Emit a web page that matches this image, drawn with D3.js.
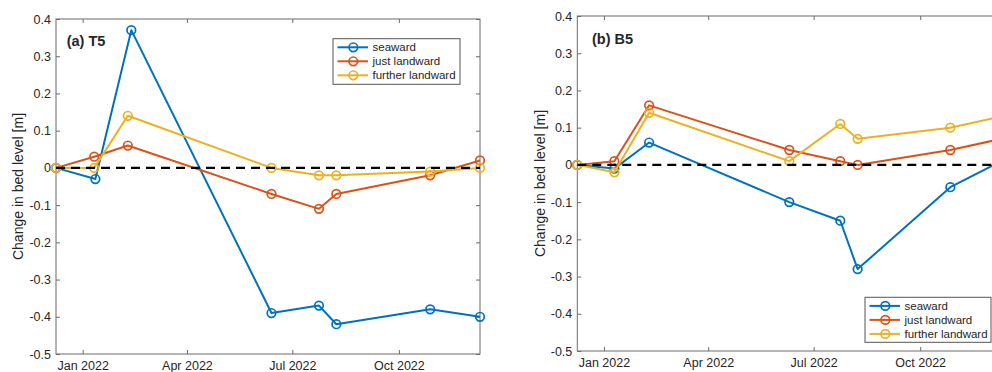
<!DOCTYPE html>
<html>
<head>
<meta charset="utf-8">
<script src="https://cdn.jsdelivr.net/npm/d3@7"></script>
<style>
  html, body { margin: 0; padding: 0; background: #fff; }
  svg { display: block; font-family: "Liberation Sans", Arial, Helvetica, sans-serif; }
</style>
</head>
<body>
<svg id="chart" width="992" height="372"></svg>
<script>
// ---------------- data ----------------
const seriesNames = ["seaward", "just landward", "further landward"];
const seriesColors = ["#0072BD", "#D95319", "#EDB120"];

// Panel (a) T5
const datesT5Sea  = ["2021-12-09","2022-01-12","2022-02-12","2022-06-13","2022-07-24","2022-08-08","2022-10-28","2022-12-10"];
const datesT5Land = ["2021-12-09","2022-01-11","2022-02-09","2022-06-13","2022-07-24","2022-08-08","2022-10-28","2022-12-10"];
const t5Seaward  = [0, -0.03, 0.37, -0.39, -0.37, -0.42, -0.38, -0.40];
const t5Just     = [0,  0.03, 0.06, -0.07, -0.11, -0.07, -0.02,  0.02];
const t5Further  = [0,  0.00, 0.14,  0.00, -0.02, -0.02, -0.01,  0.00];

// Panel (b) B5
const datesB5 = ["2021-12-09","2022-01-10","2022-02-09","2022-06-10","2022-07-24","2022-08-08","2022-10-27","2022-12-10"];
const b5Seaward  = [0, -0.01, 0.06, -0.10, -0.15, -0.28, -0.06, 0.01];
const b5Just     = [0,  0.01, 0.16,  0.04,  0.01,  0.00,  0.04, 0.07];
const b5Further  = [0, -0.02, 0.14,  0.01,  0.11,  0.07,  0.10, 0.13];

const xDomain = ["2021-12-09", "2022-12-10"];
const xTickDates = ["2022-01-01", "2022-04-01", "2022-07-01", "2022-10-01"];
const yTicks = [0.4, 0.3, 0.2, 0.1, 0, -0.1, -0.2, -0.3, -0.4, -0.5];
const yDomain = [-0.5, 0.4];
const yLabel = "Change in bed level [m]";

// ---------------- drawing ----------------
const parse = d3.timeParse("%Y-%m-%d");
const svg = d3.select("#chart");
const axisColor = "#6b6b6b";
const textColor = "#262626";

const panels = [
  { title: "(a) T5", left: 56, right: 480, top: 19, bottom: 354,
    titleX: 66.7, titleY: 46, ylabX: 23,
    series: [
      { dates: datesT5Sea, values: t5Seaward },
      { dates: datesT5Land, values: t5Just },
      { dates: datesT5Land, values: t5Further }
    ],
    legend: { x: 333, y: 38.7, w: 127, h: 45.6 } },
  { title: "(b) B5", left: 577.3, right: 1001.3, top: 16, bottom: 351,
    titleX: 592, titleY: 43.5, ylabX: 544.5,
    series: [
      { dates: datesB5, values: b5Seaward },
      { dates: datesB5, values: b5Just },
      { dates: datesB5, values: b5Further }
    ],
    legend: { x: 865, y: 297.3, w: 126, h: 45 } }
];

const fmtY = d => d === 0 ? "0" : d3.format(".1f")(d).replace("\u2212", "-");
const fmtX = d3.timeFormat("%b %Y");

panels.forEach(p => {
  const x = d3.scaleTime().domain(xDomain.map(parse)).range([p.left, p.right]);
  const y = d3.scaleLinear().domain(yDomain).range([p.bottom, p.top]);
  const g = svg.append("g");

  // white background frame
  g.append("rect").attr("x", p.left).attr("y", p.top)
    .attr("width", p.right - p.left).attr("height", p.bottom - p.top)
    .attr("fill", "#fff");

  // axes
  const styleAxis = sel => {
    sel.select(".domain").remove();
    sel.selectAll("line").attr("stroke", axisColor).attr("stroke-width", 1);
    sel.selectAll("text").attr("fill", textColor)
      .style("font-size", "12.5px")
      .style("font-family", "'Liberation Sans', Arial, Helvetica, sans-serif");
  };

  g.append("g").attr("transform", `translate(0,${p.bottom})`)
    .call(d3.axisBottom(x).tickValues(xTickDates.map(parse)).tickFormat(fmtX).tickSize(-4).tickPadding(7))
    .call(styleAxis);
  g.append("g").attr("transform", `translate(0,${p.top})`)
    .call(d3.axisTop(x).tickValues(xTickDates.map(parse)).tickFormat("").tickSize(-4))
    .call(styleAxis);
  g.append("g").attr("transform", `translate(${p.left},0)`)
    .call(d3.axisLeft(y).tickValues(yTicks).tickFormat(fmtY).tickSize(-4).tickPadding(5))
    .call(styleAxis);
  g.append("g").attr("transform", `translate(${p.right},0)`)
    .call(d3.axisRight(y).tickValues(yTicks).tickFormat("").tickSize(-4))
    .call(styleAxis);

  // frame
  g.append("rect").attr("x", p.left).attr("y", p.top)
    .attr("width", p.right - p.left).attr("height", p.bottom - p.top)
    .attr("fill", "none").attr("stroke", axisColor).attr("stroke-width", 1);

  // series
  const line = d3.line().x(d => x(d.date)).y(d => y(d.v));
  p.series.forEach((s, i) => {
    const pts = s.values.map((v, k) => ({ date: parse(s.dates[k]), v }));
    g.append("path").datum(pts).attr("d", line)
      .attr("fill", "none").attr("stroke", seriesColors[i])
      .attr("stroke-width", 2).attr("stroke-linejoin", "round");
    g.selectAll(null).data(pts).enter().append("circle")
      .attr("cx", d => x(d.date)).attr("cy", d => y(d.v)).attr("r", 4.3)
      .attr("fill", "none").attr("stroke", seriesColors[i]).attr("stroke-width", 1.7);
  });

  // zero dashed line
  g.append("line").attr("x1", x(parse(xDomain[0]))).attr("x2", x(parse(xDomain[1])))
    .attr("y1", y(0)).attr("y2", y(0))
    .attr("stroke", "#000").attr("stroke-width", 2.3).attr("stroke-dasharray", "9,6");

  // title
  g.append("text").attr("x", p.titleX).attr("y", p.titleY)
    .attr("fill", textColor).style("font-size", "14.5px").style("font-weight", "bold")
    .text(p.title);

  // y label
  g.append("text")
    .attr("transform", `translate(${p.ylabX},${(p.top + p.bottom) / 2}) rotate(-90)`)
    .attr("text-anchor", "middle").attr("fill", textColor)
    .style("font-size", "14px").text(yLabel);

  // legend
  const L = p.legend;
  const lg = g.append("g");
  lg.append("rect").attr("x", L.x).attr("y", L.y).attr("width", L.w).attr("height", L.h)
    .attr("fill", "#fff").attr("stroke", "#555").attr("stroke-width", 1);
  seriesNames.forEach((name, i) => {
    const cy = L.y + 8.6 + i * 14;
    lg.append("line").attr("x1", L.x + 4.5).attr("x2", L.x + 35).attr("y1", cy).attr("y2", cy)
      .attr("stroke", seriesColors[i]).attr("stroke-width", 2);
    lg.append("circle").attr("cx", L.x + 20.3).attr("cy", cy).attr("r", 4.3)
      .attr("fill", "none").attr("stroke", seriesColors[i]).attr("stroke-width", 1.7);
    lg.append("text").attr("x", L.x + 39.5).attr("y", cy + 4)
      .attr("fill", textColor).style("font-size", "11.5px").text(name);
  });
});
</script>
</body>
</html>
